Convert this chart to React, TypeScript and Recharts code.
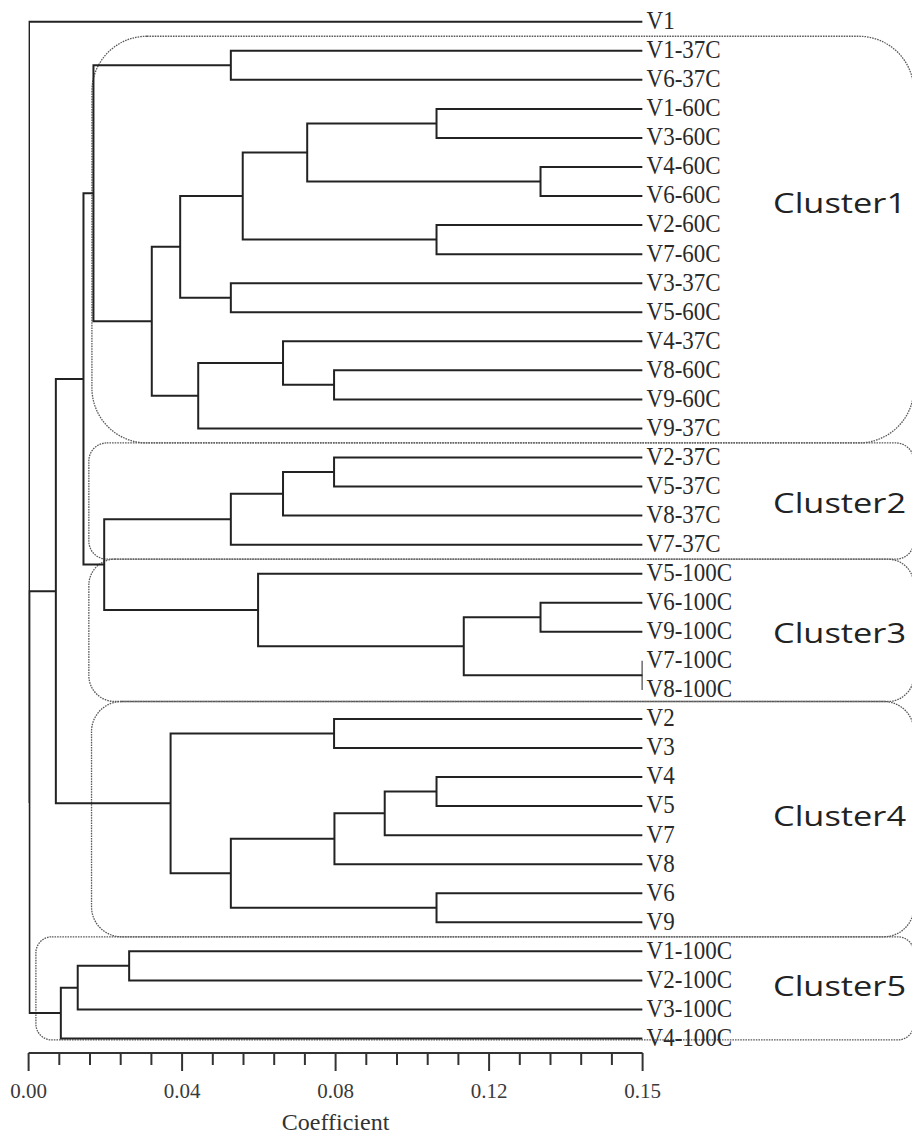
import React from 'react';
import { ComposedChart, Line, XAxis, YAxis, ReferenceArea, ReferenceDot, Label } from 'recharts';

// Leaf order, top to bottom
const leafNames = [
  'V1', 'V1-37C', 'V6-37C', 'V1-60C', 'V3-60C', 'V4-60C', 'V6-60C', 'V2-60C', 'V7-60C',
  'V3-37C', 'V5-60C', 'V4-37C', 'V8-60C', 'V9-60C', 'V9-37C',
  'V2-37C', 'V5-37C', 'V8-37C', 'V7-37C',
  'V5-100C', 'V6-100C', 'V9-100C', 'V7-100C', 'V8-100C',
  'V2', 'V3', 'V4', 'V5', 'V7', 'V8', 'V6', 'V9',
  'V1-100C', 'V2-100C', 'V3-100C', 'V4-100C',
];

// Coefficient at which the leaves sit
const leafCoefficient = 0.16;

// Agglomeration steps: [node id, left child, right child, coefficient]
const mergeSteps: [string, string, string, number][] = [
  ['m1', 'V1-37C', 'V6-37C', 0.0527],
  ['m2', 'V1-60C', 'V3-60C', 0.1063],
  ['m3', 'V4-60C', 'V6-60C', 0.1334],
  ['m4', 'm2', 'm3', 0.0726],
  ['m5', 'V2-60C', 'V7-60C', 0.1063],
  ['m6', 'm4', 'm5', 0.0558],
  ['m7', 'V3-37C', 'V5-60C', 0.0527],
  ['m8', 'm6', 'm7', 0.0395],
  ['m9', 'V8-60C', 'V9-60C', 0.0796],
  ['m10', 'V4-37C', 'm9', 0.0663],
  ['m11', 'm10', 'V9-37C', 0.0442],
  ['m12', 'm8', 'm11', 0.0321],
  ['m13', 'm1', 'm12', 0.0169],
  ['m14', 'V2-37C', 'V5-37C', 0.0796],
  ['m15', 'm14', 'V8-37C', 0.0663],
  ['m16', 'm15', 'V7-37C', 0.0527],
  ['m17', 'V6-100C', 'V9-100C', 0.1334],
  ['m18', 'V7-100C', 'V8-100C', 0.16],
  ['m19', 'm17', 'm18', 0.1134],
  ['m20', 'V5-100C', 'm19', 0.0598],
  ['m21', 'm16', 'm20', 0.0197],
  ['m22', 'm13', 'm21', 0.0143],
  ['m23', 'V2', 'V3', 0.0796],
  ['m24', 'V4', 'V5', 0.1063],
  ['m25', 'm24', 'V7', 0.0928],
  ['m26', 'm25', 'V8', 0.0797],
  ['m27', 'V6', 'V9', 0.1063],
  ['m28', 'm26', 'm27', 0.0527],
  ['m29', 'm23', 'm28', 0.037],
  ['m30', 'm22', 'm29', 0.0071],
  ['m31', 'V1-100C', 'V2-100C', 0.0262],
  ['m32', 'm31', 'V3-100C', 0.0128],
  ['m33', 'm32', 'V4-100C', 0.0084],
  ['m34', 'm30', 'm33', 0.0002],
  ['m35', 'V1', 'm34', 0.0001],
];

// Cluster groups (first and last leaf)
const clusterNames = ['Cluster1', 'Cluster2', 'Cluster3', 'Cluster4', 'Cluster5'];
const clusterFirstLeaf = ['V1-37C', 'V2-37C', 'V5-100C', 'V2', 'V1-100C'];
const clusterLastLeaf = ['V9-37C', 'V7-37C', 'V8-100C', 'V9', 'V4-100C'];

// Axis ticks
const coefTicks = [
  0, 0.008, 0.016, 0.024, 0.032, 0.04, 0.048, 0.056, 0.064, 0.072, 0.08,
  0.088, 0.096, 0.104, 0.112, 0.12, 0.128, 0.136, 0.144, 0.152, 0.16,
];
const majorTicks = [0, 0.04, 0.08, 0.12, 0.16];
const majorTickLabels = ['0.00', '0.04', '0.08', '0.12', '0.15'];

// ---- layout / styling ----
const W = 912;
const H = 1137;
const SERIF = "'Liberation Serif', 'Times New Roman', 'DejaVu Serif', serif";
const SANS = "'Open Sans', 'Noto Sans', 'Liberation Sans', sans-serif";
const LINE = '#222';
const BOX = '#5a5a5a';

// box geometry per cluster: left coefficient, right coefficient, top/bottom extension in rows, corner radius
const boxStyle = [
  { left: 0.0165, right: 0.2307, top: -0.5, bottom: 0.5, r: 55 },
  { left: 0.0157, right: 0.2307, top: -0.5, bottom: 0.5, r: 18 },
  { left: 0.0157, right: 0.2307, top: -0.5, bottom: 0.4, r: 26 },
  { left: 0.0164, right: 0.2307, top: -0.6, bottom: 0.5, r: 30 },
  { left: 0.0019, right: 0.2307, top: -0.5, bottom: 0.05, r: 16 },
];
const clusterLabelPos = [
  { x: 0.194, row: 6.23 },
  { x: 0.194, row: 16.56 },
  { x: 0.194, row: 21.04 },
  { x: 0.194, row: 27.34 },
  { x: 0.194, row: 33.19 },
];

type Pt = { x: number; y: number };

function buildElbows(): { id: string; points: Pt[] }[] {
  const pos: Record<string, Pt> = {};
  leafNames.forEach((n, i) => {
    pos[n] = { x: leafCoefficient, y: i };
  });
  return mergeSteps.map(([id, a, b, h]) => {
    const pa = pos[a];
    const pb = pos[b];
    pos[id] = { x: h, y: (pa.y + pb.y) / 2 };
    return {
      id,
      points: [
        { x: pa.x, y: pa.y },
        { x: h, y: pa.y },
        { x: h, y: pb.y },
        { x: pb.x, y: pb.y },
      ],
    };
  });
}

const elbows = buildElbows();
const leafRows = leafNames.map((_, i) => i);

const CoefTick = (props: any) => {
  const { x, y, payload } = props;
  const mi = majorTicks.findIndex((m) => Math.abs(m - payload.value) < 1e-9);
  const major = mi >= 0;
  return (
    <g>
      <line x1={x} x2={x} y1={y} y2={y + (major ? 18 : 12)} stroke="#333" strokeWidth={2} />
      {major && (
        <text x={x} y={y + 45} textAnchor="middle" fontFamily={SERIF} fontSize={21} fill="#3a3a3a">
          {majorTickLabels[mi]}
        </text>
      )}
    </g>
  );
};

const LeafTick = (props: any) => {
  const { x, y, payload } = props;
  const name = leafNames[payload.value];
  return (
    <text
      transform={`translate(${x + 4},${y + 7.4}) scale(1,1.1)`}
      fontFamily={SERIF}
      fontSize={23}
      fill="#2a2a2a"
    >
      {name}
    </text>
  );
};

export default function App() {
  return (
    <div style={{ position: 'absolute', left: 0, top: 0, width: W, height: H, background: '#fff' }}>
      <ComposedChart width={W} height={H} margin={{ top: 7.2, right: 0, bottom: 0, left: 28.6 }}>
        <XAxis
          type="number"
          dataKey="x"
          domain={[0, 0.16]}
          ticks={coefTicks}
          interval={0}
          tick={<CoefTick />}
          tickLine={false}
          tickSize={0}
          tickMargin={0}
          axisLine={{ stroke: '#333', strokeWidth: 2 }}
          height={84}
          allowDataOverflow
        >
          <Label
            value="Coefficient"
            position="insideBottom"
            offset={7}
            style={{ fontFamily: SERIF, fontSize: 24, fill: '#333' }}
          />
        </XAxis>
        <YAxis
          type="number"
          dataKey="y"
          orientation="right"
          domain={[-0.5, 35.5]}
          reversed
          ticks={leafRows}
          interval={0}
          tick={<LeafTick />}
          tickLine={false}
          tickSize={0}
          tickMargin={0}
          axisLine={false}
          width={269.4}
          allowDataOverflow
        />
        {clusterNames.map((c, i) => {
          const s = boxStyle[i];
          return (
            <ReferenceArea
              key={c}
              x1={s.left}
              x2={s.right}
              y1={leafNames.indexOf(clusterFirstLeaf[i]) + s.top}
              y2={leafNames.indexOf(clusterLastLeaf[i]) + s.bottom}
              ifOverflow="visible"
              shape={(p: any) => (
                <rect
                  x={p.x}
                  y={p.y}
                  width={p.width}
                  height={p.height}
                  rx={s.r}
                  ry={s.r}
                  fill="none"
                  stroke={BOX}
                  strokeWidth={1.3}
                  strokeDasharray="1.6 1"
                />
              )}
            />
          );
        })}
        {elbows.map((e) => (
          <Line
            key={e.id}
            data={e.points}
            dataKey="y"
            type="linear"
            stroke={LINE}
            strokeWidth={2}
            dot={false}
            activeDot={false}
            isAnimationActive={false}
            strokeLinejoin="miter"
          />
        ))}
        {clusterNames.map((c, i) => (
          <ReferenceDot
            key={`lbl-${c}`}
            x={clusterLabelPos[i].x}
            y={clusterLabelPos[i].row}
            ifOverflow="visible"
            shape={(p: any) => (
              <text
                x={p.cx}
                y={p.cy + 10}
                fontFamily={SANS}
                fontSize={28}
                fill="#222"
                textLength={133}
                lengthAdjust="spacingAndGlyphs"
              >
                {c}
              </text>
            )}
          />
        ))}
      </ComposedChart>
    </div>
  );
}
